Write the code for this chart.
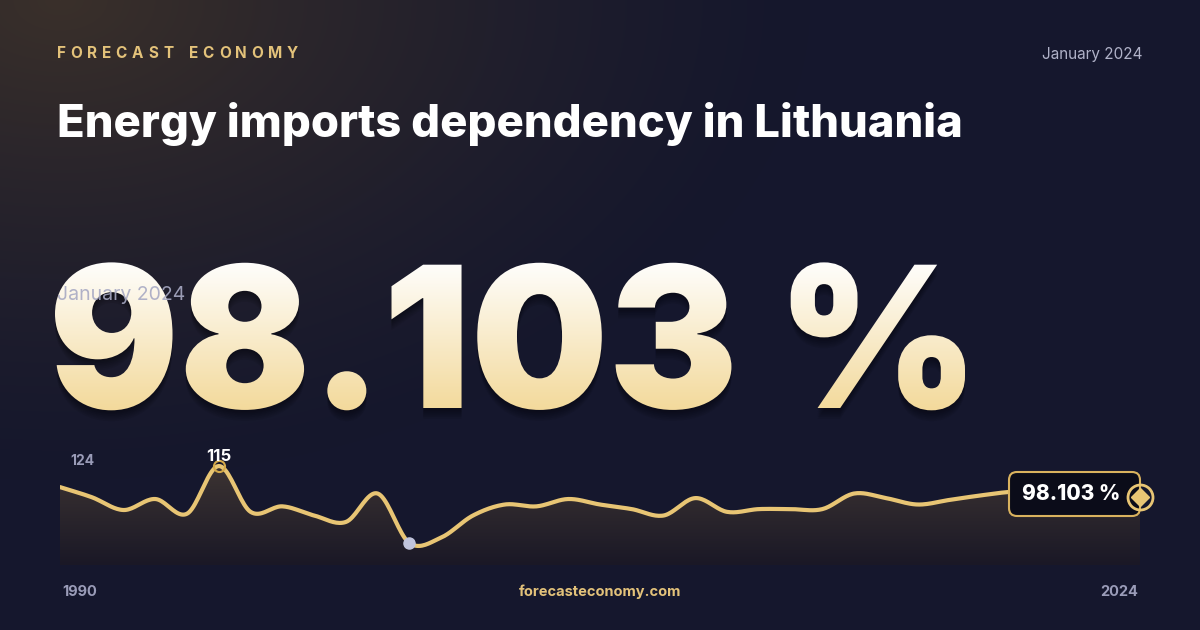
import numpy as np, pandas as pd, seaborn as sns, matplotlib
matplotlib.use("Agg")
import matplotlib.pyplot as plt
from matplotlib.textpath import TextPath
from matplotlib.patches import PathPatch, FancyBboxPatch, Polygon
from matplotlib.font_manager import FontProperties
from matplotlib.transforms import Affine2D

years = list(range(1990, 2025))
values = [103.5, 98, 91, 97, 89, 115, 90, 93, 88, 84.5, 100, 73, 76, 88, 94, 93, 97, 94,
          91.5, 88, 97.5, 90, 91.5, 91.5, 91.5, 100, 97.5, 94, 96.5, 99, 101, 101, 100, 99, 98.103]
title = "Energy imports dependency in Lithuania"
brand = "FORECAST ECONOMY"
date_label = "January 2024"
headline = "98.103 %"

sns.set_theme(style="dark")
plt.rcParams['font.family'] = ['Inter', 'DejaVu Sans']

W, H = 1200, 630
fig = plt.figure(figsize=(12, 6.3), dpi=100)
bg = fig.add_axes([0, 0, 1, 1]); bg.set_xlim(0, W); bg.set_ylim(0, H); bg.axis('off')
yy, xx = np.mgrid[0:H, 0:W]
d = np.sqrt(((xx - 60) / 750) ** 2 + ((yy - 0) / 480) ** 2)
g = (np.clip(1 - d, 0, 1) ** 1.3)[..., None]
base = np.array([0x15, 0x17, 0x2d]) / 255; glow = np.array([0x3a, 0x30, 0x2a]) / 255
img = base * (1 - g) + glow * g
bg.imshow(img, extent=[0, W, 0, H], origin='upper', zorder=0, aspect='auto')

def T(x, y): return x, H - y

# header with letter spacing
fpb = FontProperties(family='Inter', weight='bold', size=11)
cx = 57.0
for ch in brand:
    bg.text(*T(cx, 53), ch, color="#e3c27a", fontproperties=fpb, va='center', ha='left')
    w = TextPath((0, 0), ch if ch != " " else "n", prop=fpb, size=11 * 100 / 72).get_extents().width
    cx += (w if ch != " " else 4) + 6.2
bg.text(*T(1143, 54), date_label, color="#b0b2c8", fontsize=11, va='center', ha='right')
bg.text(*T(57, 124), title, color="white", fontsize=32.7, fontweight='heavy', va='center', ha='left')

# big gradient headline
fp = FontProperties(family='Inter', weight='black')
tp = TextPath((0, 0), headline, size=197, prop=fp)
ext = tp.get_extents()
sx = (965 - 55) / ext.width
tr = Affine2D().translate(-ext.x0, 0).scale(sx, 1.0).translate(55, H - 408)
path = tr.transform_path(tp)
for k in range(1, 7):
    bg.add_patch(PathPatch(Affine2D().translate(0, -1.8 * k).transform_path(path),
                           fc=(0, 0, 0, 0.07), ec='none', zorder=1))
pp = PathPatch(path, fc='none', ec='none'); bg.add_patch(pp)
grad = np.linspace(0, 1, 256)[:, None]
c1 = np.array([1.0, 1.0, 1.0]); c2 = np.array([0xf3, 0xd9, 0x9a]) / 255
gi = c1 * (1 - grad[..., None]) + c2 * grad[..., None]
gi = np.repeat(gi, 2, axis=1)
im = bg.imshow(gi, extent=[50, 970, H - 412, H - 258], origin='upper', aspect='auto', zorder=2)
im.set_clip_path(pp)
bg.text(*T(57, 295), date_label, color="#a8aac4", fontsize=14, va='center', ha='left', zorder=3, alpha=0.9)

# chart
ax = fig.add_axes([60 / W, 1 - 565 / H, 1080 / W, (565 - 449.5) / H])
ax.patch.set_alpha(0); ax.axis('off')
ymin = 115 - (565 - 466) / 1.834
x = np.array(years, float); v = np.array(values, float)
m = np.gradient(v, x)
xs, ys = [], []
for i in range(len(x) - 1):
    t = np.linspace(0, 1, 20, endpoint=False)
    h00 = 2*t**3 - 3*t**2 + 1; h10 = t**3 - 2*t**2 + t; h01 = -2*t**3 + 3*t**2; h11 = t**3 - t**2
    xs += list(x[i] + t); ys += list(h00*v[i] + h10*m[i] + h01*v[i+1] + h11*m[i+1])
xs.append(x[-1]); ys.append(v[-1])
df = pd.DataFrame({"year": xs, "value": ys})
verts = [(xs[0], ymin)] + list(zip(xs, ys)) + [(xs[-1], ymin)]
poly = Polygon(verts, fc='none', ec='none'); ax.add_patch(poly)
fg = np.linspace(0, 1, 128)[:, None, None]
top = np.array([0x3e, 0x35, 0x33, 255]) / 255; bot = np.array([0x1a, 0x18, 0x26, 255]) / 255
fimg = top * (1 - fg) + bot * fg
fimg = np.repeat(fimg, 2, axis=1)
fi = ax.imshow(fimg, extent=[1990, 2024, ymin, 118], origin='upper', aspect='auto', zorder=1)
fi.set_clip_path(poly)
sns.lineplot(data=df, x="year", y="value", ax=ax, color="#e8c574", lw=3, zorder=3, legend=False)
ax.set_xlim(1990, 2024); ax.set_ylim(ymin, 124)
imax = int(np.argmax(v)); imin = int(np.argmin(v))
ax.plot(years[imax], values[imax], 'o', ms=8, mfc='none', mec='#d4a94a', mew=1.5, zorder=4)
ax.plot(years[imin], values[imin], 'o', ms=8, color='#c0c4dc', zorder=4)
ax.text(years[imax], values[imax] + 1.2, f"{values[imax]:.0f}", color='white', fontsize=12,
        fontweight='bold', ha='center', va='bottom', zorder=5)

# overlay for label box
ov = fig.add_axes([0, 0, 1, 1]); ov.set_xlim(0, W); ov.set_ylim(0, H); ov.axis('off'); ov.patch.set_alpha(0)
box = FancyBboxPatch((1009, H - 516), 131, 44, boxstyle="round,pad=0,rounding_size=8",
                     fc="#0b0c19", ec="#d9b25e", lw=1.5, zorder=7)
ov.add_patch(box)
ov.text(*T(1071, 494), headline, color='white', fontsize=15, fontweight='heavy', ha='center', va='center', zorder=8)
ov.plot(*T(1140, 497), 'o', ms=18, mfc='none', mec='#e8c574', mew=2, zorder=9)
ov.plot(*T(1140, 497), 'D', ms=9, color='#e8c574', zorder=9)

bg.text(*T(70, 461), "124", color="#9a9cb8", fontsize=10, fontweight='bold', va='center')
bg.text(*T(70, 547), "66", color="#9a9cb8", fontsize=10, fontweight='bold', va='center')
bg.text(*T(62, 592), str(years[0]), color="#9a9cb8", fontsize=10.5, fontweight='bold', va='center')
bg.text(*T(1138, 592), str(years[-1]), color="#9a9cb8", fontsize=10.5, fontweight='bold', va='center', ha='right')
bg.text(*T(600, 592), "forecasteconomy.com", color="#e3c27a", fontsize=10.5, fontweight='bold', va='center', ha='center')
fig.savefig("out.png", dpi=100)
